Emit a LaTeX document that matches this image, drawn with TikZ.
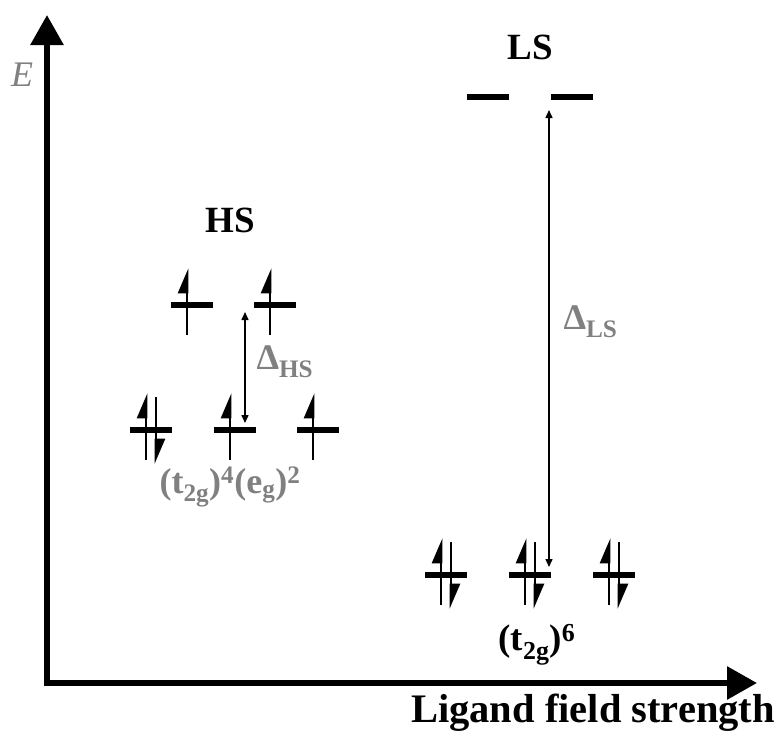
\documentclass[tikz,border=0pt]{standalone}
\usepackage{fontspec}
\setmainfont{Liberation Serif}
\usetikzlibrary{arrows.meta}
\tikzset{
  level/.style={line width=6pt},
  spin/.style={line width=2.8pt,-{Triangle[harpoon,length=22pt,width=18pt]}},
  gap/.style={line width=1.5pt,{Triangle[length=8pt,width=7pt]}-{Triangle[length=8pt,width=7pt]}},
  lbl/.style={font=\bfseries\fontsize{37}{40}\selectfont},
  faint/.style={font=\bfseries\fontsize{36}{40}\selectfont,text=gray}
}
\begin{document}
\begin{tikzpicture}[x=1pt,y=-1pt]
\useasboundingbox (0,0) rectangle (780,731);
% axes
\coordinate (O) at (47,683);
\coordinate (Etop) at (47,15);
\coordinate (Xend) at (757,683);
\draw[line width=6pt,line cap=rect,-{Triangle[length=30pt,width=32pt]}] (O) -- (Etop);
\draw[line width=6pt,line cap=rect,-{Triangle[length=30pt,width=32pt]}] (O) -- (Xend);
\node[faint,font=\itshape\fontsize{36}{40}\selectfont] (E) at (22,75) {E};
\node[lbl,font=\bfseries\fontsize{40.5}{44}\selectfont] (xlab) at (593,713) {Ligand field strength};
% levels and electrons (0, 1 or 2 per level)
\foreach \cx/\cy/\ne in {192/305/1,275/305/1,151/430/2,235/430/1,318/430/1,
  488/97/0,572/97/0,446/575/2,530/575/2,614/575/2}{
\draw[level] (\cx-21,\cy)--(\cx+21,\cy);
\ifnum\ne>0 \draw[spin] (\cx-5,\cy+30)--(\cx-5,\cy-37); \fi
\ifnum\ne>1 \draw[spin] (\cx+5,\cy-33)--(\cx+5,\cy+34); \fi}
% splittings
\coordinate (hs-hi) at (245,312); \coordinate (hs-lo) at (245,423);
\coordinate (ls-hi) at (549,110); \coordinate (ls-lo) at (549,567);
\draw[gap] (hs-hi)--(hs-lo);
\draw[gap] (ls-hi)--(ls-lo);
\node[faint,anchor=west] (dhs) at (253,362) {Δ\textsubscript{HS}};
\node[faint,anchor=west] (dls) at (560,322) {Δ\textsubscript{LS}};
% labels
\node[lbl] (hs) at (230,220) {HS};
\node[lbl] (ls) at (530,47) {LS};
\node[faint] (cfghs) at (230,487) {(t\textsubscript{2g})\textsuperscript{4}(e\textsubscript{g})\textsuperscript{2}};
\node[lbl] (cfgls) at (537,645) {(t\textsubscript{2g})\textsuperscript{6}};
\end{tikzpicture}
\end{document}
